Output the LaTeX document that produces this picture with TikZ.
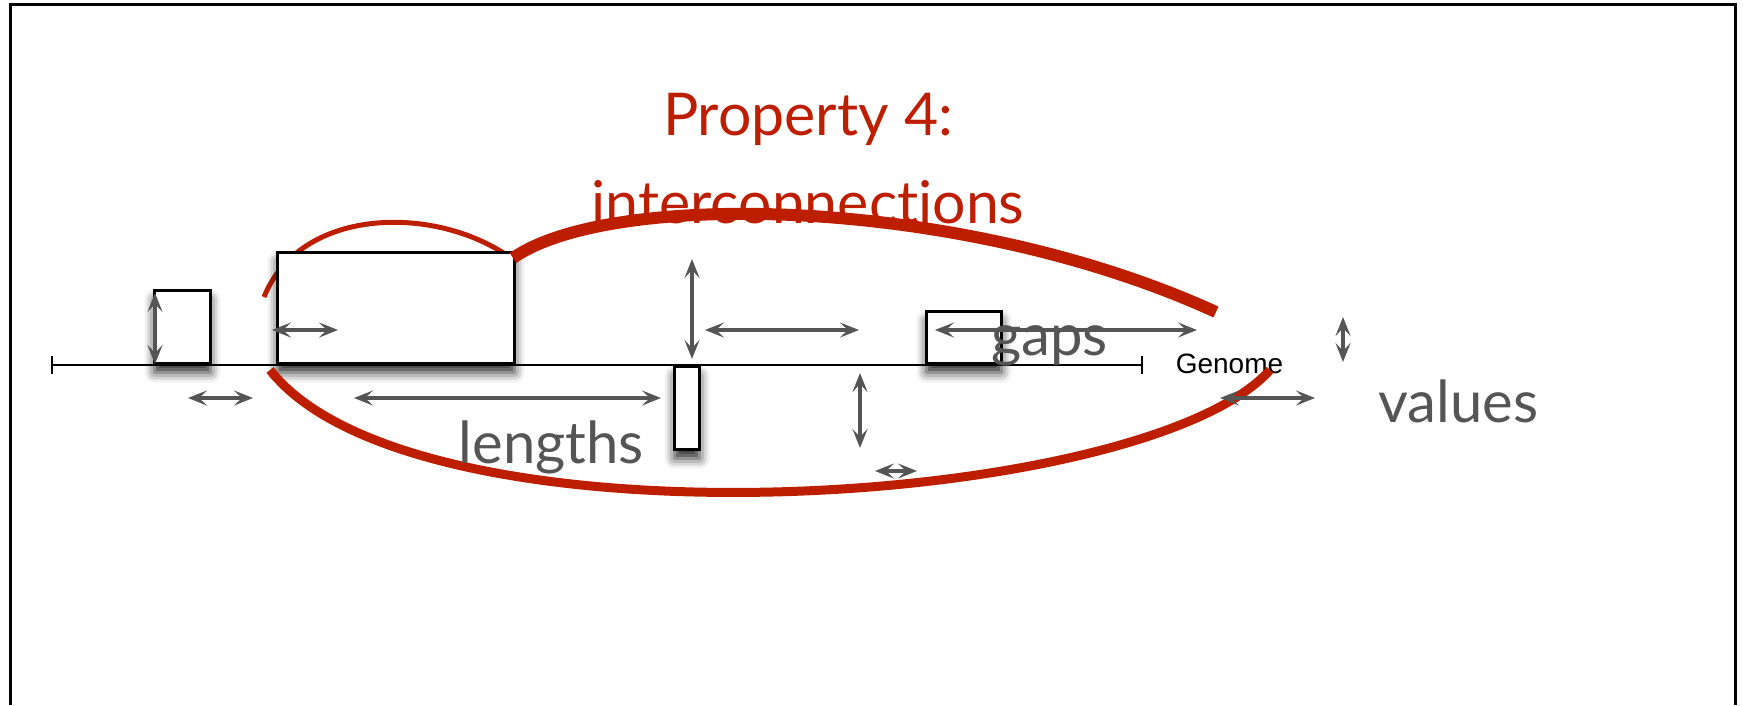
\documentclass[tikz,border=0pt]{standalone}
\usepackage{fontspec}
\usetikzlibrary{arrows.meta,shadows.blur}
\newfontfamily\labelfont[Ligatures={NoCommon,NoDiscretionary,NoRare}]{Lato}
\newfontfamily\genomefont{Liberation Sans}
\definecolor{propred}{RGB}{190,30,0}
\definecolor{markgray}{RGB}{85,85,85}

\begin{document}
\begin{tikzpicture}[x=1pt,y=-1pt,
  feature/.style={draw=black, line width=3pt, fill=white, inner sep=0pt,
    blur shadow={shadow xshift=0pt, shadow yshift=-9pt,
                 shadow blur radius=10pt, shadow opacity=85}},
  measure/.style={draw=markgray, line width=4pt,
    {Stealth[length=19pt,width=15pt,inset=8pt]}-{Stealth[length=19pt,width=15pt,inset=8pt]}},
  link/.style={draw=propred, line cap=butt},
  word/.style={text=markgray, font=\labelfont\fontsize{58}{58}\selectfont,
    inner sep=0pt, anchor=base},
  heading/.style={text=propred, font=\labelfont\fontsize{59}{59}\selectfont,
    inner sep=0pt, anchor=base}]
\useasboundingbox (0,0) rectangle (1743,705);

% open frame
\draw[line width=3pt] (10.5,705) -- (10.5,4.5) -- (1735.5,4.5) -- (1735.5,705);

% short interconnection looping over the large feature
\draw[link, line width=5pt] (264,297) .. controls (300,208) and (430,205) .. (505,254);

% features on the genome
\node[feature, minimum width=56pt, minimum height=73pt, anchor=south west] (f1) at (153,365) {};
\node[feature, minimum width=237pt, minimum height=111pt, anchor=south west] (f2) at (276,365) {};
\node[feature, minimum width=25pt, minimum height=83pt, anchor=north west] (f3) at (673,365) {};
\node[feature, minimum width=75pt, minimum height=52pt, anchor=south west] (f4) at (925,365) {};

% genome axis
\coordinate (g0) at (51,365);
\coordinate (g1) at (1143,365);
\draw[line width=2pt, {Bar[width=18pt]}-{Bar[width=18pt]}] (g0) -- (g1);
\node[font=\genomefont\fontsize{28}{28}\selectfont, inner sep=0pt, anchor=base] (genome) at (1229.5,373) {Genome};

% long-range interconnections
\draw[link, line width=12pt] (513,258) .. controls (610,190) and (960,195) .. (1216,312);
\draw[link, line width=9pt] (270,370) .. controls (415,555) and (1145,510) .. (1270,370);

% measurement arrows
\draw[measure] (155,293) -- (155,364);
\draw[measure] (188,398) -- (253,398);
\draw[measure] (272,330) -- (338,330);
\draw[measure] (354,398) -- (661,398);
\draw[measure] (692,259) -- (692,359);
\draw[measure] (705,330) -- (859,330);
\draw[measure] (860,373) -- (860,448);
\draw[measure] (875,471) -- (917,471);
\draw[measure] (935,330) -- (1197,330);
\draw[measure] (1343,317) -- (1343,362);
\draw[measure] (1220,398) -- (1315,398);

% labels
\node[heading] (title) at (808,135) {Property 4:};
\node[heading] (subtitle) at (808,223) {interconnections};
\node[word] (lengths) at (551.5,463) {lengths};
\node[word] (gaps) at (1049.5,355) {gaps};
\node[word] (values) at (1458.5,422) {values};
\end{tikzpicture}
\end{document}
